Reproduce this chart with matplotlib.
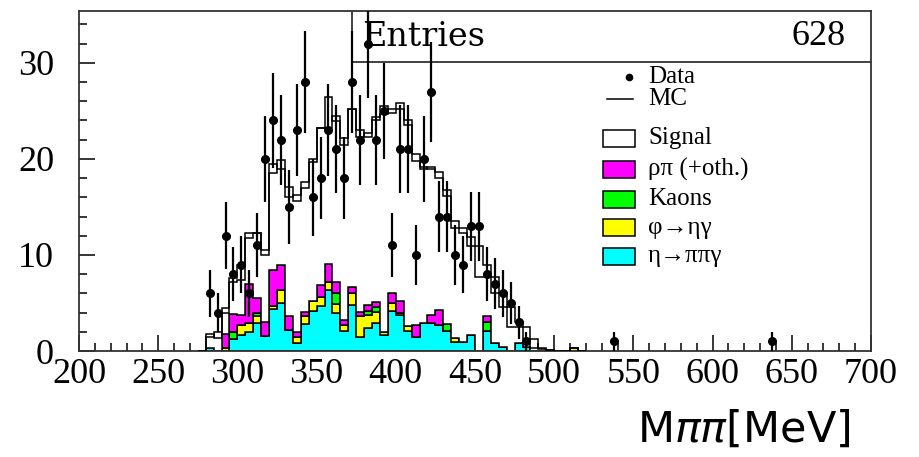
import matplotlib
matplotlib.use("Agg")
import matplotlib.pyplot as plt
from matplotlib.patches import Rectangle
from matplotlib.lines import Line2D
import numpy as np

W, H = 919, 457

# 5 MeV bins, lower edges 275 ... 515
bin_lo = [275, 280, 285, 290, 295, 300, 305, 310, 315, 320, 325, 330, 335, 340, 345,
          350, 355, 360, 365, 370, 375, 380, 385, 390, 395, 400, 405, 410, 415, 420,
          425, 430, 435, 440, 445, 450, 455, 460, 465, 470, 475, 480, 485, 490, 495,
          500, 505, 510, 515]
eta_pipigamma = [0, 0.3, 0, 0, 1.3, 1.7, 2.0, 2.9, 1.6, 4.4, 5.0, 2.2, 0.8, 2.8, 4.2,
                 4.7, 6.4, 4.0, 2.1, 4.75, 1.5, 2.4, 2.9, 1.7, 4.2, 3.7, 2.1, 1.5, 2.9, 2.9,
                 2.7, 2.1, 0.9, 0.9, 1.7, 0, 2.1, 0.8, 0.45, 0, 0.8, 0.45, 0, 0, 0,
                 0, 0, 0, 0]
phi_etagamma = [0, 0, 0, 0.3, 0, 1.0, 0.9, 0.7, 0, 0.3, 1.3, 0, 0.7, 0.8, 1.0,
                0.9, 0.8, 0.9, 0.6, 1.3, 2.1, 1.4, 1.2, 0.3, 0.8, 0.3, 0.5, 0, 0, 0,
                0, 0, 0.5, 0, 0, 0, 0, 0, 0, 0, 0, 0, 0, 0, 0,
                0, 0, 0.35, 0]
kaons = [0, 0, 0, 0, 0.7, 0, 0, 0.4, 0, 0, 0, 0, 0, 0, 0,
         0, 0, 1.1, 0, 0, 0, 0.4, 0.5, 0, 0, 0, 0, 0, 0, 0,
         0, 0.7, 0, 0, 0, 0, 0.9, 0, 0, 0, 0, 0, 0, 0, 0,
         0, 0, 0, 0]
rhopi = [0, 0, 0, 1.5, 1.9, 1.1, 4.1, 1.5, 1.4, 3.7, 2.7, 1.4, 0.5, 0.5, 0,
         1.3, 1.9, 1.2, 0.5, 0.6, 0.5, 0.6, 0.5, 0, 1.0, 1.2, 0, 1.2, 0, 0.85,
         1.6, 0, 0, 0, 0, 0, 0.6, 0, 0, 0, 0, 0, 0, 0, 0,
         0, 0, 0, 0]
total_stack = [0, 1.8, 1.4, 4.0, 7.2, 7.4, 12.3, 12.3, 10.5, 18.5, 19.9, 17.1, 15.6, 17.6, 19.7,
               23.2, 26.4, 23.9, 22.2, 25.2, 22.3, 22.7, 24.4, 24.7, 25.2, 25.2, 24.1, 19.8, 19.2, 18.9,
               18.6, 16.1, 12.8, 12.3, 10.9, 7.7, 7.7, 6.0, 4.6, 2.5, 2.5, 1.2, 0.3, 0.2, 0.1,
               0, 0, 0.35, 0]
mc_line = [0, 1.5, 2.0, 4.5, 7.6, 9.0, 11.8, 12.3, 10.0, 19.5, 19.0, 16.0, 16.2, 17.0, 20.0,
           23.2, 23.2, 24.5, 21.5, 25.2, 23.0, 22.3, 24.0, 25.5, 24.8, 25.8, 23.5, 20.5, 19.0, 19.2,
           18.0, 16.8, 13.5, 12.8, 11.9, 10.9, 9.0, 7.7, 6.0, 4.6, 3.0, 2.5, 1.2, 0.3, 0.1,
           0, 0, 0.3, 0]

data_x = [282.5, 287.5, 292.5, 297.5, 302.5, 307.5, 312.5, 317.5, 322.5, 327.5,
          332.5, 337.5, 342.5, 347.5, 352.5, 357.5, 362.5, 367.5, 372.5, 377.5,
          382.5, 387.5, 392.5, 397.5, 402.5, 407.5, 412.5, 417.5, 422.5, 427.5,
          432.5, 437.5, 442.5, 447.5, 452.5, 457.5, 462.5, 467.5, 472.5, 477.5,
          482.5, 537.5, 637.5]
data_n = [6, 4, 12, 8, 9, 6, 11, 20, 24, 22,
          15, 23, 28, 16, 18, 23, 21, 18, 28, 22,
          32, 22, 25, 11, 21, 21, 10, 20, 27, 14,
          14, 10, 9, 13, 13, 8, 7, 6, 5, 3,
          1, 1, 1]

legend_labels = ["Data", "MC", "Signal", "ρπ (+oth.)", "Kaons", "φ→ηγ", "η→ππγ"]
legend_colors = [None, None, "white", "#ff00ff", "#00ff00", "#ffff00", "#00ffff"]

edges = np.append(bin_lo, bin_lo[-1] + 5)
signal = np.array(total_stack) - (np.array(eta_pipigamma) + np.array(phi_etagamma)
                                  + np.array(kaons) + np.array(rhopi))

fig = plt.figure(figsize=(W / 100, H / 100), dpi=100)
ax = fig.add_axes([79 / W, 106 / H, 792 / W, 340 / H])

base = np.zeros(len(bin_lo))
for vals, col in [(eta_pipigamma, "#00ffff"), (phi_etagamma, "#ffff00"),
                  (kaons, "#00ff00"), (rhopi, "#ff00ff"), (signal, "white")]:
    vals = np.array(vals)
    ax.stairs(base + vals, edges, baseline=base, fill=True, facecolor=col,
              edgecolor="black", linewidth=1.1, zorder=2)
    base = base + vals
ax.stairs(mc_line, edges, color="black", linewidth=1.1, zorder=3)

# stats box
ax.add_patch(Rectangle((0.345, 0.85), 0.655, 0.15, transform=ax.transAxes,
                       facecolor="white", edgecolor="#333333", linewidth=1.3, zorder=3))
ax.text(0.358, 0.925, "Entries", transform=ax.transAxes, va="center", ha="left",
        fontsize=24, family=["DejaVu Serif"], zorder=4)
ax.text(0.968, 0.925, "628", transform=ax.transAxes, va="center", ha="right",
        fontsize=26, family=["Liberation Serif"], zorder=4)

ax.errorbar(data_x, data_n, yerr=np.sqrt(data_n), fmt="o", color="black",
            markersize=5.5, elinewidth=1.6, capsize=0, zorder=5)

ax.set_xlim(200, 700)
ax.set_ylim(0, 35.4)
ax.set_xticks(np.arange(200, 701, 50))
ax.set_xticks(np.arange(200, 701, 10), minor=True)
ax.set_yticks([0, 10, 20, 30])
ax.set_yticks(np.arange(0, 35, 2), minor=True)
ax.tick_params(which="both", direction="in", top=False, right=False, width=1.1)
ax.tick_params(which="major", length=11.5)
ax.tick_params(which="minor", length=5.8)
ax.tick_params(axis="y", pad=18)
ax.tick_params(axis="x", pad=5)
for lab in ax.get_xticklabels() + ax.get_yticklabels():
    lab.set_family(["Liberation Serif"])
    lab.set_fontsize(26)
for sp in ax.spines.values():
    sp.set_linewidth(1.3)
    sp.set_color("#333333")

# legend drawn by hand, pixel positions
def fx(px):
    return px / W

def fy(py):
    return 1 - py / H

rows = [77, 99, 138, 169, 199, 228, 256]
for lab, col, py in zip(legend_labels, legend_colors, rows):
    if lab == "Data":
        fig.add_artist(Line2D([fx(629)], [fy(py)], marker="o", markersize=4.5,
                              color="black", transform=fig.transFigure))
    elif lab == "MC":
        fig.add_artist(Line2D([fx(607), fx(633)], [fy(py), fy(py)], color="black",
                              linewidth=1.1, transform=fig.transFigure))
    else:
        fig.add_artist(Rectangle((fx(603), fy(py + 8.5)), 32 / W, 17 / H,
                                 transform=fig.transFigure, facecolor=col,
                                 edgecolor="black", linewidth=1.1))
    fig.text(fx(648), fy(py), lab, va="center", ha="left", fontsize=18,
             family=["Liberation Serif", "DejaVu Serif"])

fig.text(637 / W, 15 / H, r"M$\pi\pi$[MeV]", ha="left", va="baseline", fontsize=31,
         family=["DejaVu Sans"])

fig.savefig("out.png", dpi=100)
